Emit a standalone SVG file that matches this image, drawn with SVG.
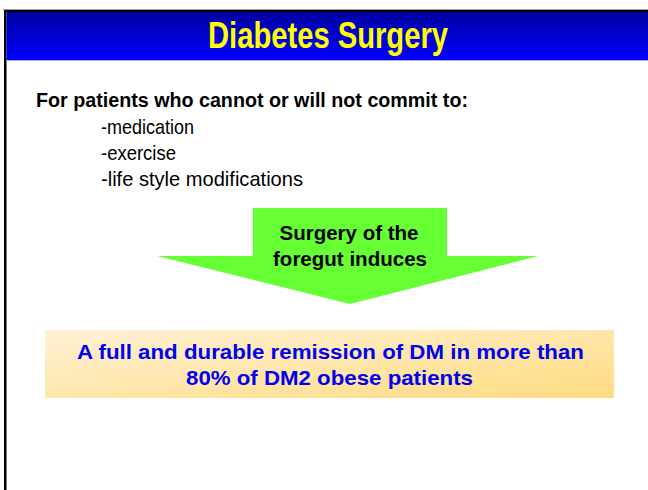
<svg xmlns="http://www.w3.org/2000/svg" width="648" height="490" viewBox="0 0 648 490">
  <defs>
    <linearGradient id="hdr" x1="0" y1="0" x2="0" y2="1">
      <stop offset="0" stop-color="#0000a0"/>
      <stop offset="1" stop-color="#0000ff"/>
    </linearGradient>
    <linearGradient id="box" x1="0" y1="0" x2="1" y2="1">
      <stop offset="0" stop-color="#fff1d6"/>
      <stop offset="1" stop-color="#ffdb80"/>
    </linearGradient>
    <style>
      .title { font-family: "Liberation Sans", Arial, sans-serif; font-weight: bold; fill: #ffff00; }
      .lead { font-family: "Liberation Sans", Arial, sans-serif; font-weight: bold; fill: #000; }
      .item { font-family: "Liberation Sans", Arial, sans-serif; fill: #000; }
      .arrowtxt { font-family: "Liberation Sans", Arial, sans-serif; font-weight: bold; fill: #000; }
      .boxtxt { font-family: "Liberation Sans", Arial, sans-serif; font-weight: bold; fill: #0000ee; }
    </style>
  </defs>
  <rect width="648" height="490" fill="#ffffff"/>
  <g id="header">
    <rect x="3" y="9" width="645" height="1.2" fill="#a0a0a0"/>
    <rect x="4" y="10" width="644" height="2.2" fill="#000"/>
    <rect x="4" y="10" width="2.5" height="480" fill="#000"/>
    <rect x="6.5" y="12" width="641.5" height="48" fill="url(#hdr)"/>
    <rect x="6.5" y="60" width="641.5" height="1" fill="#a8a8ff"/>
    <text class="title" x="328" y="48" font-size="36" text-anchor="middle" textLength="240" lengthAdjust="spacingAndGlyphs">Diabetes Surgery</text>
  </g>
  <g id="intro">
    <text class="lead" x="36" y="107" font-size="19.5" textLength="432" lengthAdjust="spacingAndGlyphs">For patients who cannot or will not commit to:</text>
    <text class="item" x="101" y="134" font-size="21" textLength="93" lengthAdjust="spacingAndGlyphs">-medication</text>
    <text class="item" x="101" y="160" font-size="21" textLength="75" lengthAdjust="spacingAndGlyphs">-exercise</text>
    <text class="item" x="101" y="186" font-size="21" textLength="202" lengthAdjust="spacingAndGlyphs">-life style modifications</text>
  </g>
  <g id="arrow">
    <polygon points="253,208 447,208 447,256 538,256 350,304 157,256 253,256" fill="#66ff33"/>
    <text class="arrowtxt" x="349" y="240" font-size="21" text-anchor="middle" textLength="139" lengthAdjust="spacingAndGlyphs">Surgery of the</text>
    <text class="arrowtxt" x="350" y="266" font-size="21" text-anchor="middle" textLength="154" lengthAdjust="spacingAndGlyphs">foregut induces</text>
  </g>
  <g id="result">
    <rect x="45" y="330" width="569" height="68" fill="url(#box)"/>
    <text class="boxtxt" x="330.5" y="359" font-size="20.5" text-anchor="middle" textLength="507" lengthAdjust="spacingAndGlyphs">A full and durable remission of DM in more than</text>
    <text class="boxtxt" x="329.5" y="385" font-size="20.5" text-anchor="middle" textLength="287" lengthAdjust="spacingAndGlyphs">80% of DM2 obese patients</text>
  </g>
  <g id="connectors"></g>
</svg>
